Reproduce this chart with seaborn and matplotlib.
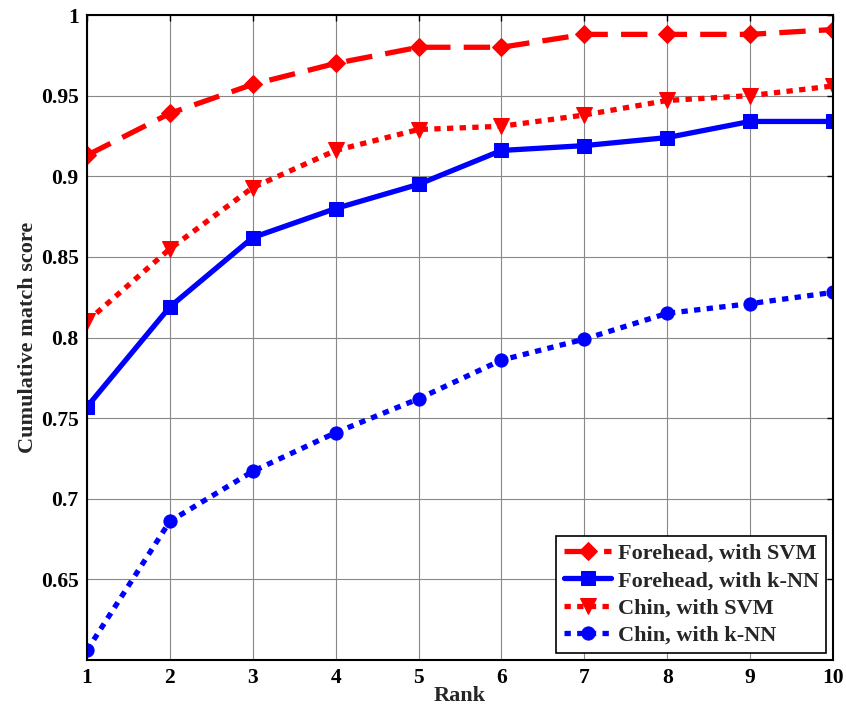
import matplotlib
matplotlib.use("Agg")
import matplotlib.pyplot as plt
import seaborn as sns
import pandas as pd

rank = [1, 2, 3, 4, 5, 6, 7, 8, 9, 10]
forehead_svm = [0.913, 0.939, 0.957, 0.970, 0.980, 0.980, 0.988, 0.988, 0.988, 0.991]
forehead_knn = [0.757, 0.819, 0.862, 0.880, 0.895, 0.916, 0.919, 0.924, 0.934, 0.934]
chin_svm = [0.810, 0.855, 0.893, 0.916, 0.929, 0.931, 0.938, 0.947, 0.950, 0.956]
chin_knn = [0.606, 0.686, 0.717, 0.741, 0.762, 0.786, 0.799, 0.815, 0.821, 0.828]

sns.set_style("white")
plt.rcParams['font.family'] = ['Liberation Serif', 'DejaVu Serif']
plt.rcParams['font.weight'] = 'bold'

fig = plt.figure(figsize=(8.46, 7.15), dpi=100)
ax = fig.add_axes([0.1028, 0.0769, 0.8818, 0.9021])

series = [
    ("Forehead, with SVM", forehead_svm, "#ff0000", (0, (5, 2.5)), "D", 9),
    ("Forehead, with k-NN", forehead_knn, "#0000ff", "-", "s", 10),
    ("Chin, with SVM", chin_svm, "#ff0000", (0, (1.2, 1.2)), "v", 12),
    ("Chin, with k-NN", chin_knn, "#0000ff", (0, (1.2, 1.2)), "o", 9.5),
]

for name, vals, col, ls, mk, ms in series:
    df = pd.DataFrame({"Rank": rank, "score": vals})
    sns.lineplot(data=df, x="Rank", y="score", ax=ax, color=col, linestyle=ls,
                 linewidth=3.8, marker=mk, markersize=ms, markeredgecolor=col,
                 markerfacecolor=col, label=name)

ax.set_xlim(1, 10)
ax.set_ylim(0.6, 1.0)
ax.set_xticks(rank)
ax.set_yticks([0.65, 0.7, 0.75, 0.8, 0.85, 0.9, 0.95, 1.0])
ax.set_yticklabels(["0.65", "0.7", "0.75", "0.8", "0.85", "0.9", "0.95", "1"])
ax.grid(True, color="#888888", linewidth=0.8, linestyle="-")
ax.tick_params(direction="in", length=4, width=1, top=True, right=True,
               labelsize=15.5, colors="black", pad=6)
for lab in ax.get_xticklabels() + ax.get_yticklabels():
    lab.set_fontweight("bold")
for sp in ax.spines.values():
    sp.set_color("black")
    sp.set_linewidth(1.5)
ax.set_xlabel("Rank", fontsize=16, fontweight="bold", labelpad=-2)
ax.set_ylabel("Cumulative match score", fontsize=16, fontweight="bold", labelpad=2)

leg = ax.legend(loc="lower right", frameon=True, fancybox=False,
                edgecolor="black", framealpha=1, handlelength=2.1,
                borderaxespad=0.3, labelspacing=0.3, handletextpad=0.3,
                borderpad=0.35, prop={"weight": "bold", "size": 16})
leg.get_frame().set_linewidth(1.2)

fig.savefig("out.png", dpi=100)
